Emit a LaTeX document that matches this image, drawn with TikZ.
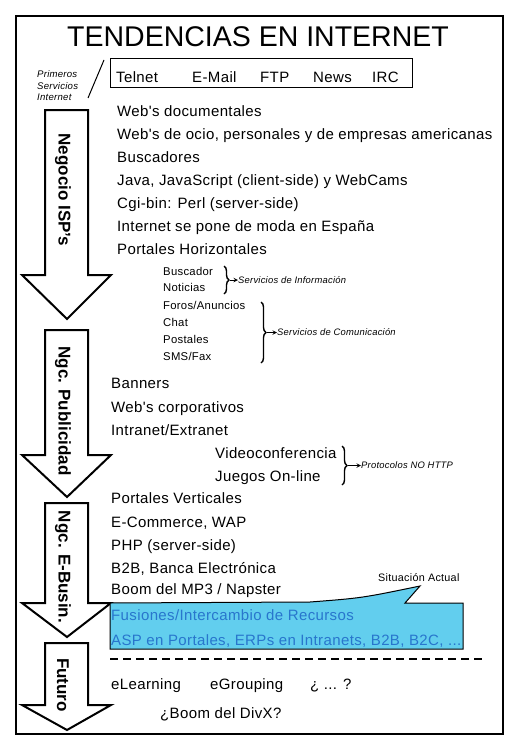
\documentclass[tikz,border=0pt]{standalone}
\usepackage{fontspec}
\setmainfont{Liberation Sans}
\newfontfamily\fancho[LetterSpace=2.5]{Liberation Sans}
\usepackage{tikz}
\usetikzlibrary{positioning,calc,decorations.pathreplacing}
\usetikzlibrary{arrows}

\definecolor{azulsit}{RGB}{98,206,238}
\definecolor{azultxt}{RGB}{40,118,205}

\begin{document}
\begin{tikzpicture}[x=1pt,y=-1pt,
  txt/.style={anchor=base west,inner sep=0pt,font=\fancho\fontsize{15}{16}\selectfont},
  chico/.style={anchor=base west,inner sep=0pt,font=\fancho\fontsize{11.3}{13}\selectfont},
  nota/.style={anchor=west,inner sep=0pt,font=\fancho\fontsize{9.4}{10}\selectfont\itshape},
  etapa/.style={draw,line width=2pt,fill=white,line join=miter},
  rotulo/.style={rotate=-90,inner sep=0pt,font=\fontsize{17}{19}\selectfont\bfseries},
  llave/.style={decorate,decoration={brace,amplitude=5pt},line width=1.4pt},
  flecha/.style={-stealth,line width=1pt}]
%\draw[help lines,step=20,dashed] (0,0) grid (521,752);
\useasboundingbox (0,0) rectangle (521,752);
\draw[line width=2.5pt] (16,16) rectangle (503,734);

\node[font=\fontsize{28.5}{30}\selectfont] (titulo) at (258,37) {TENDENCIAS EN INTERNET};

% primeros servicios
\node[draw,line width=1pt,anchor=north west,minimum width=302,minimum height=29] (caja) at (110,58) {};
\node[txt] (telnet) at (116,82) {Telnet};
\node[txt] (email) at (192,82) {E-Mail};
\node[txt] (ftp) at (260,82) {FTP};
\node[txt] (news) at (313,82) {News};
\node[txt] (irc) at (372,82) {IRC};
\node[nota,align=left,font=\fancho\fontsize{9.6}{11.5}\selectfont\itshape] (prim) at (37,86) {Primeros\\Servicios\\Internet};
\draw[line width=1pt] (104,60) -- (88,98);

% etapas
\draw[etapa] (45,110) -- (88,110) -- (88,275) -- (111,275) -- (67,319) -- (22,275) -- (45,275) -- cycle;
\draw[etapa] (45,330) -- (88,330) -- (88,455) -- (111,455) -- (67,497) -- (22,455) -- (45,455) -- cycle;
\draw[etapa] (45,503) -- (88,503) -- (88,603) -- (111,603) -- (67,637) -- (22,603) -- (45,603) -- cycle;
\draw[etapa] (45,643) -- (88,643) -- (88,705) -- (111,705) -- (67,730) -- (22,705) -- (45,705) -- cycle;
\node[rotulo] (isp) at (63,190) {Negocio ISP's};
\node[rotulo] (publi) at (63,411) {Ngc. Publicidad};
\node[rotulo] (ebus) at (63,567) {Ngc. E-Busin.};
\node[rotulo] (futuro) at (63,685) {Futuro};

% negocio ISP's
\node[txt] (web1) at (117,116) {Web's documentales};
\node[txt,below=23pt of web1.base west,anchor=base west] (web2) {Web's de ocio, personales y de empresas americanas};
\node[txt,below=23pt of web2.base west,anchor=base west] (busc) {Buscadores};
\node[txt,below=23pt of busc.base west,anchor=base west] (java) {Java, JavaScript (client-side) y WebCams};
\node[txt,below=23pt of java.base west,anchor=base west] (cgi) {Cgi-bin: Perl (server-side)};
\node[txt,below=23pt of cgi.base west,anchor=base west] (moda) {Internet se pone de moda en España};
\node[txt,below=23pt of moda.base west,anchor=base west] (porth) {Portales Horizontales};

\node[chico] (buscador) at (163,275) {Buscador};
\node[chico,below=16pt of buscador.base west,anchor=base west] (noticias) {Noticias};
\node[chico,below=18pt of noticias.base west,anchor=base west] (foros) {Foros/Anuncios};
\node[chico,below=17pt of foros.base west,anchor=base west] (chat) {Chat};
\node[chico,below=17pt of chat.base west,anchor=base west] (postales) {Postales};
\node[chico,below=17pt of postales.base west,anchor=base west] (sms) {SMS/Fax};

\coordinate (ll1a) at (224,266);
\coordinate (ll1b) at (224,294);
\draw[llave] (ll1a) -- (ll1b);
\coordinate (pico1) at ($(ll1a)!0.5!(ll1b)+(6,0)$);
\node[nota] (sinfo) at ($(pico1)+(8,0)$) {Servicios de Información};
\draw[flecha] (pico1) -- (sinfo);

\coordinate (ll2a) at (261,302);
\coordinate (ll2b) at (261,363);
\draw[llave] (ll2a) -- (ll2b);
\coordinate (pico2) at ($(ll2a)!0.5!(ll2b)+(6,0)$);
\node[nota] (scom) at ($(pico2)+(10,0)$) {Servicios de Comunicación};
\draw[flecha] (pico2) -- (scom);

% publicidad
\node[txt] (banners) at (111,388) {Banners};
\node[txt,below=24pt of banners.base west,anchor=base west] (corp) {Web's corporativos};
\node[txt,below=23pt of corp.base west,anchor=base west] (intra) {Intranet/Extranet};
\node[txt] (video) at (215,458) {Videoconferencia};
\node[txt,below=23pt of video.base west,anchor=base west] (juegos) {Juegos On-line};

\coordinate (ll3a) at (342,446);
\coordinate (ll3b) at (342,485);
\draw[llave] (ll3a) -- (ll3b);
\coordinate (pico3) at ($(ll3a)!0.5!(ll3b)+(6,0)$);
\node[nota] (proto) at ($(pico3)+(13,0)$) {Protocolos NO HTTP};
\draw[flecha] (pico3) -- (proto);

% e-business
\node[txt] (portv) at (111,503) {Portales Verticales};
\node[txt,below=24pt of portv.base west,anchor=base west] (ecom) {E-Commerce, WAP};
\node[txt,below=23pt of ecom.base west,anchor=base west] (php) {PHP (server-side)};
\node[txt,below=23pt of php.base west,anchor=base west] (b2b) {B2B, Banca Electrónica};
\node[txt,below=21pt of b2b.base west,anchor=base west] (mp3) {Boom del MP3 / Napster};

% situacion actual
\draw[line width=1pt,fill=azulsit] (110,603) -- (310,602) .. controls (362,598) .. (420,586)
  -- (405,603) -- (463,603) -- (463,649) -- (110,649) -- cycle;
\node[anchor=base west,inner sep=0pt,font=\fancho\fontsize{10.8}{12}\selectfont] (sit) at (378,581) {Situación Actual};
\node[txt,text=azultxt] (fus) at (111,620) {Fusiones/Intercambio de Recursos};
\node[txt,text=azultxt,below=25pt of fus.base west,anchor=base west] (asp) {ASP en Portales, ERPs en Intranets, B2B, B2C, ...};

\draw[line width=2.5pt,dash pattern=on 8pt off 5pt] (110,659) -- (484,659);

% futuro
\node[txt] (elearn) at (111,689) {eLearning};
\node[txt] (egroup) at (210,689) {eGrouping};
\node[txt] (dudas) at (310,689) {¿ ... ?};
\node[txt] (divx) at (160,718) {¿Boom del DivX?};
\end{tikzpicture}
\end{document}
